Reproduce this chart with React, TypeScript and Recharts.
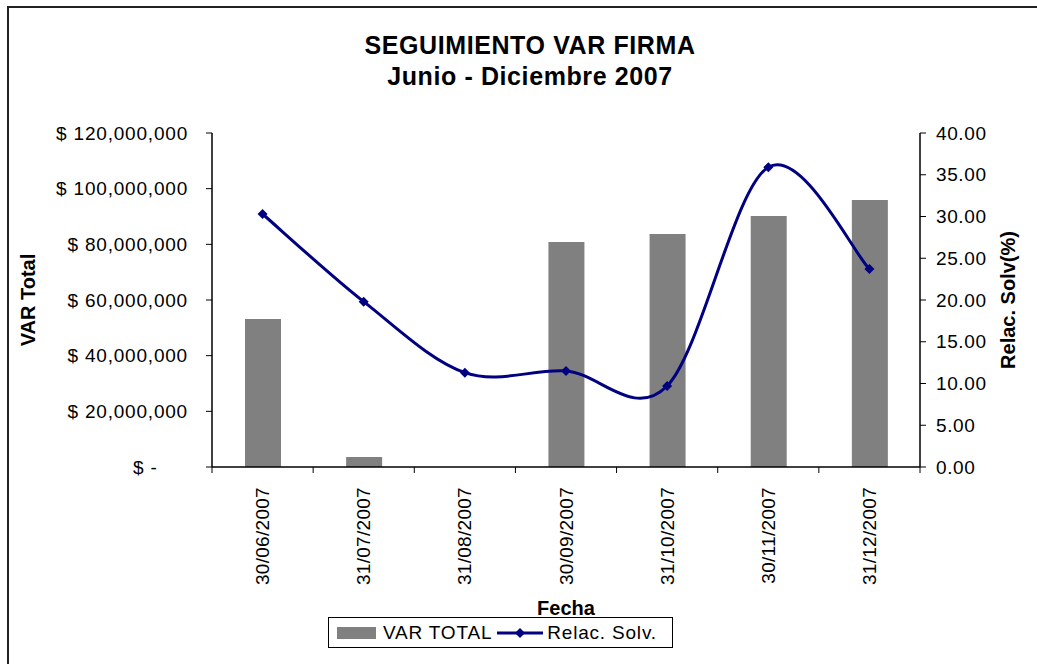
import React from "react";
import { ComposedChart, Bar, Line, XAxis, YAxis } from "recharts";

// valores
const fechas = [
  "30/06/2007",
  "31/07/2007",
  "31/08/2007",
  "30/09/2007",
  "31/10/2007",
  "30/11/2007",
  "31/12/2007",
];
const varTotal = [53200000, 3600000, 0, 80800000, 83700000, 90200000, 95900000];
const relacSolv = [30.3, 19.8, 11.3, 11.5, 9.7, 35.9, 23.7];

const ticksVar = [0, 20000000, 40000000, 60000000, 80000000, 100000000, 120000000];
const ticksSolv = [0, 5, 10, 15, 20, 25, 30, 35, 40];

const data = fechas.map((fecha, i) => ({
  fecha,
  varTotal: varTotal[i],
  relacSolv: relacSolv[i],
}));

const FONT = "'Liberation Sans', Arial, sans-serif";
const NAVY = "#000080";
const GRIS = "#808080";

// curva suavizada tipo Excel (Catmull-Rom -> Bezier)
function excelSmooth(context: any) {
  let pts: number[][] = [];
  return {
    areaStart() {},
    areaEnd() {},
    lineStart() {
      pts = [];
    },
    point(x: number, y: number) {
      pts.push([+x, +y]);
    },
    lineEnd() {
      const n = pts.length;
      if (!n) return;
      context.moveTo(pts[0][0], pts[0][1]);
      for (let i = 0; i < n - 1; i++) {
        const p0 = pts[i - 1] || pts[i];
        const p1 = pts[i];
        const p2 = pts[i + 1];
        const p3 = pts[i + 2] || p2;
        context.bezierCurveTo(
          p1[0] + (p2[0] - p0[0]) / 6,
          p1[1] + (p2[1] - p0[1]) / 6,
          p2[0] - (p3[0] - p1[0]) / 6,
          p2[1] - (p3[1] - p1[1]) / 6,
          p2[0],
          p2[1]
        );
      }
    },
  };
}

const fmtVar = (v: number) =>
  v === 0 ? "$ -\u00a0\u00a0\u00a0\u00a0\u00a0" : "$ " + v.toLocaleString("en-US");

const DateTick = (props: any) => {
  const { x, y, payload, index, visibleTicksCount, width } = props;
  const count = visibleTicksCount || fechas.length;
  const bw = (width || 708) / count;
  const last = index === count - 1;
  return (
    <g>
      <line x1={x - bw / 2} x2={x - bw / 2} y1={y} y2={y + 6} stroke="#000" />
      {last && <line x1={x + bw / 2} x2={x + bw / 2} y1={y} y2={y + 6} stroke="#000" />}
      <text
        x={x}
        y={y + 20}
        transform={`rotate(-90, ${x}, ${y + 20})`}
        textAnchor="end"
        dominantBaseline="central"
        fontSize={19}
        letterSpacing={0.3}
        fontFamily={FONT}
        fill="#000"
      >
        {payload.value}
      </text>
    </g>
  );
};

const Diamond = (props: any) => {
  const { cx, cy } = props;
  if (cx == null || cy == null) return null;
  return (
    <polygon
      points={`${cx},${cy - 5} ${cx + 5},${cy} ${cx},${cy + 5} ${cx - 5},${cy}`}
      fill={NAVY}
    />
  );
};

const axisTitle = (text: string, dx: number) => (p: any) => {
  const vb = p.viewBox;
  const cx = vb.x + dx;
  const cy = vb.y + vb.height / 2;
  return (
    <text
      x={cx}
      y={cy}
      transform={`rotate(-90, ${cx}, ${cy})`}
      textAnchor="middle"
      dominantBaseline="central"
      fontSize={20}
      fontWeight="bold"
      fontFamily={FONT}
      fill="#000"
    >
      {text}
    </text>
  );
};

export default function App() {
  return (
    <div
      style={{
        position: "absolute",
        left: 0,
        top: 0,
        width: 1037,
        height: 664,
        overflow: "hidden",
        background: "#fff",
        fontFamily: FONT,
      }}
    >
      <div
        style={{
          position: "absolute",
          left: 7,
          top: 6,
          width: 1040,
          height: 700,
          border: "2px solid #222",
        }}
      />
      <div
        style={{
          position: "absolute",
          left: 0,
          width: 1060,
          top: 30,
          textAlign: "center",
          fontSize: 25,
          fontWeight: "bold",
          lineHeight: "31px",
          letterSpacing: 0.6,
        }}
      >
        SEGUIMIENTO VAR FIRMA
        <br />
        Junio - Diciembre 2007
      </div>

      <ComposedChart
        width={1037}
        height={664}
        data={data}
        margin={{ top: 133, right: 0, bottom: 0, left: 0 }}
      >
        <XAxis
          dataKey="fecha"
          height={197}
          tickLine={false}
          tickSize={0}
          tickMargin={0}
          interval={0}
          axisLine={{ stroke: "#000", strokeWidth: 1.5 }}
          tick={<DateTick />}
          label={{
            value: "Fecha",
            position: "insideBottom",
            offset: 49,
            fontSize: 20,
            fontWeight: "bold",
            fill: "#000",
            fontFamily: FONT,
          }}
        />
        <YAxis
          yAxisId="var"
          orientation="left"
          width={212}
          domain={[0, 120000000]}
          ticks={ticksVar}
          tickFormatter={fmtVar}
          tickSize={6}
          tickMargin={18}
          axisLine={{ stroke: "#000", strokeWidth: 1.5 }}
          tickLine={{ stroke: "#000" }}
          tick={{ fill: "#000", fontSize: 19, fontFamily: FONT, letterSpacing: 0.8 }}
          label={{ content: axisTitle("VAR Total", 28) }}
        />
        <YAxis
          yAxisId="solv"
          orientation="right"
          width={117}
          domain={[0, 40]}
          ticks={ticksSolv}
          tickFormatter={(v: number) => v.toFixed(2)}
          tickSize={6}
          tickMargin={10}
          axisLine={{ stroke: "#000", strokeWidth: 1.5 }}
          tickLine={{ stroke: "#000" }}
          tick={{ fill: "#000", fontSize: 19, fontFamily: FONT, letterSpacing: 0.6 }}
          label={{ content: axisTitle("Relac. Solv(%)", 88) }}
        />
        <Bar
          yAxisId="var"
          dataKey="varTotal"
          name="VAR TOTAL"
          fill={GRIS}
          barSize={36}
          isAnimationActive={false}
        />
        <Line
          yAxisId="solv"
          dataKey="relacSolv"
          name="Relac. Solv."
          type={excelSmooth as any}
          stroke={NAVY}
          strokeWidth={3}
          dot={<Diamond />}
          activeDot={false}
          isAnimationActive={false}
        />
      </ComposedChart>

      <div
        style={{
          position: "absolute",
          left: 328,
          top: 617,
          width: 345,
          height: 31,
          border: "1px solid #000",
          display: "flex",
          alignItems: "center",
          fontSize: 19,
          letterSpacing: 0.8,
          boxSizing: "border-box",
          paddingLeft: 8,
        }}
      >
        <span style={{ width: 39, height: 12, background: GRIS, marginRight: 7 }} />
        <span>VAR TOTAL</span>
        <svg width={46} height={14} style={{ margin: "0 4px 0 5px" }}>
          <line x1={0} x2={46} y1={7} y2={7} stroke={NAVY} strokeWidth={3} />
          <polygon points="23,2 28,7 23,12 18,7" fill={NAVY} />
        </svg>
        <span>Relac. Solv.</span>
      </div>
    </div>
  );
}
